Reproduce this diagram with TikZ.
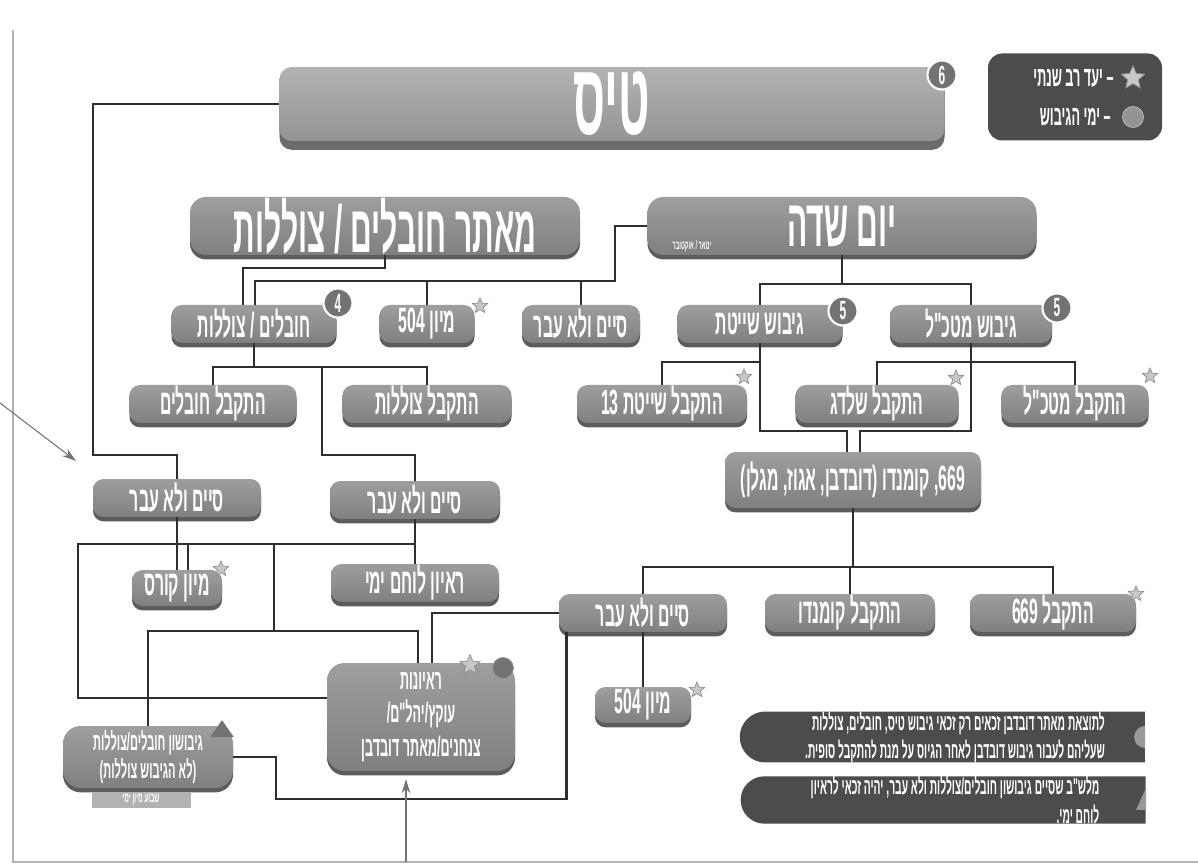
\documentclass[tikz,border=0pt]{standalone}
\usepackage{fontspec}
\newfontfamily\hebfont[Script=Hebrew,FakeStretch=0.45]{Liberation Sans}
\TeXXeTstate=1
\usetikzlibrary{arrows.meta,calc,positioning,shapes.geometric,shapes.misc,shadows}
\definecolor{boxtop}{gray}{0.62}
\definecolor{boxbot}{gray}{0.50}
\definecolor{boxedge}{gray}{0.36}
\definecolor{darkfill}{gray}{0.30}
\definecolor{linkcol}{gray}{0.18}
\newcommand{\heb}[1]{\beginR #1\endR}

\begin{document}
\begin{tikzpicture}[x=0.02cm, y=-0.02cm,
    link/.style={draw=linkcol, line width=1.5pt},
    pointer/.style={draw=black!55, line width=0.6pt, -{Stealth[length=8pt,width=5pt]}},
    boxbase/.style={rectangle, rounded corners=6pt, top color=boxtop, bottom color=boxbot,
        text=white, inner sep=0pt,
        drop shadow={shadow xshift=0pt, shadow yshift=-2.5pt, fill=boxedge, opacity=1}},
    pill/.style={boxbase, minimum width=#1*0.02cm, minimum height=0.76cm,
        font=\hebfont\bfseries\fontsize{20}{22}\selectfont},
    headbox/.style={boxbase, rounded corners=9pt, minimum width=#1*0.02cm, minimum height=1.16cm,
        font=\hebfont\bfseries\fontsize{38}{40}\selectfont},
    darkbox/.style={rectangle, rounded corners=8pt, fill=darkfill, text=white, inner sep=0pt},
    notebox/.style={rounded rectangle, rounded rectangle right arc=none, fill=darkfill,
        text=white, inner sep=0pt, minimum width=405*0.02cm,
        font=\hebfont\bfseries\fontsize{13}{16}\selectfont},
    badge/.style={circle, fill=black!55, draw=white, line width=1.2pt, text=white,
        inner sep=0pt, minimum size=0.58cm, font=\hebfont\bfseries\fontsize{15}{15}\selectfont},
    goalstar/.style={star, star points=5, star point ratio=2.2, fill=black!22, draw=black!45,
        line width=0.4pt, inner sep=0pt, minimum size=0.32cm},
    daydot/.style={circle, fill=black!42, draw=black!25, inner sep=0pt, minimum size=0.42cm}]

    \useasboundingbox (0,0) rectangle (1198,864);
    % שולי הדף
    \draw[black!30, line width=0.6pt] (13,30) -- (13,862) -- (1198,862);

    % כותרת
    \node[boxbase, rounded corners=7pt, top color=black!30, bottom color=black!42,
        drop shadow={shadow xshift=0pt, shadow yshift=-5pt, fill=black!58, opacity=1},
        minimum width=665*0.02cm, minimum height=1.48cm,
        font=\hebfont\bfseries\fontsize{58}{60}\selectfont] (title) at (612,104) {\heb{טיס}};
    \node[badge] (badge6) at (942,75) {6};

    % מקרא
    \node[darkbox, minimum width=174*0.02cm, minimum height=87*0.02cm] (legend) at (1075,97) {};
    \node[goalstar, minimum size=0.5cm] (legStar) at (1133,78) {};
    \node[daydot] (legDay) at (1133,117) {};
    \node[left=3pt of legStar, text=white, font=\hebfont\bfseries\fontsize{16}{16}\selectfont] (legStarTxt) {\heb{– יעד רב שנתי}};
    \node[left=3pt of legDay, text=white, font=\hebfont\bfseries\fontsize{16}{16}\selectfont] (legDayTxt) {\heb{– ימי הגיבוש}};

    % שורה עליונה
    \node[headbox=389] (yom) at (842,226) {\heb{יום שדה}};
    \node[text=white, font=\hebfont\bfseries\fontsize{7}{7}\selectfont] (yomDate) at (692,246) {\heb{ינואר / אוקטובר}};
    \node[headbox=390] (maatar) at (385,226) {\heb{מאתר חובלים / צוללות}};

    % גיבושים
    \node[pill=165] (hovsub) at (254,324) {\heb{חובלים / צוללות}};
    \node[badge] (badge4) at (338,303) {4};
    \node[pill=95] (mi504a) at (427,324) {\heb{מיון 504}};
    \node[goalstar] (starA) at (480,306) {};
    \node[pill=118] (sfailA) at (581,324) {\heb{סיים ולא עבר}};
    \node[pill=165] (gibShay) at (760,324) {\heb{גיבוש שייטת}};
    \node[badge] (badge5a) at (843,311) {5};
    \node[pill=162] (gibMat) at (971,324) {\heb{גיבוש מטכ"ל}};
    \node[badge] (badge5b) at (1057,308) {5};

    % התקבל
    \node[pill=167] (accHov) at (213,404) {\heb{התקבל חובלים}};
    \node[pill=169] (accTsol) at (427,404) {\heb{התקבל צוללות}};
    \node[pill=170] (accShay) at (662,404) {\heb{התקבל שייטת 13}};
    \node[goalstar] (starB) at (744,377) {};
    \node[pill=163] (accShal) at (877,404) {\heb{התקבל שלדג}};
    \node[goalstar] (starC) at (956,378) {};
    \node[pill=147] (accMat) at (1075,404) {\heb{התקבל מטכ"ל}};
    \node[goalstar] (starD) at (1150,376) {};

    \node[pill=256, minimum height=1.12cm] (komando) at (853,480) {\heb{669\kern0pt, קומנדו \kern0pt(\kern0pt דובדבן\kern0pt, אגוז\kern0pt, מגלן\kern0pt)}};

    \node[pill=168] (sfailB) at (643,613) {\heb{סיים ולא עבר}};
    \node[pill=170] (accKom) at (850,613) {\heb{התקבל קומנדו}};
    \node[pill=166] (acc669) at (1053,613) {\heb{התקבל 669}};
    \node[goalstar] (starE) at (1136,594) {};
    \node[pill=96, minimum height=0.72cm] (mi504b) at (643,705) {\heb{מיון 504}};
    \node[goalstar] (starF) at (697,690) {};

    % צד שמאל
    \node[pill=168] (sfailC) at (177,498) {\heb{סיים ולא עבר}};
    \node[pill=170] (sfailD) at (415,500) {\heb{סיים ולא עבר}};
    \node[pill=90, minimum height=0.72cm] (miKurs) at (177,588) {\heb{מיון קורס}};
    \node[goalstar] (starG) at (221,569) {};
    \node[pill=168] (rayon) at (415,583) {\heb{ראיון לוחם ימי}};

    \node[boxbase, rounded corners=10pt, minimum width=188*0.02cm, minimum height=2.16cm,
        align=center, font=\hebfont\bfseries\fontsize{16}{19}\selectfont] (bigbox) at (421,717)
        {\heb{ראיונות}\\\heb{עוקץ/יהל"ם\kern0pt/}\\\heb{צנחנים/מאתר דובדבן}};
    \node[goalstar, minimum size=0.42cm] (starH) at (470,665) {};
    \node[daydot, fill=black!55, draw=black!40] (dayH) at (503,668) {};

    \node[boxbase, rounded corners=10pt, minimum width=170*0.02cm, minimum height=1.24cm,
        align=center, font=\hebfont\bfseries\fontsize{14}{16}\selectfont] (gibushon) at (148,757)
        {\heb{גיבושון חובלים/צוללות}\\\heb{(לא הגיבוש צוללות)}};
    \node[isosceles triangle, shape border rotate=90, isosceles triangle apex angle=70,
        fill=black!55, inner sep=0pt, minimum size=0.34cm] (triH) at (222,731) {};
    \node[rectangle, fill=black!30, text=white, minimum width=99*0.02cm, minimum height=0.32cm,
        inner sep=0pt, font=\hebfont\bfseries\fontsize{8}{8}\selectfont] (gibTag) at (141,800) {\heb{שבוע מיון ימי}};

    % הערות
    \node[notebox, minimum height=1.0cm, align=right] (note1) at (955,737)
        {\heb{לתוצאת מאתר דובדבן זכאים רק זכאי גיבוש טיס, חובלים, צוללות}\\\heb{שעליהם לעבור גיבוש דובדבן לאחר הגיוס על מנת להתקבל סופית.}};
    \node[notebox, minimum height=0.92cm, align=right] (note2) at (955,800)
        {\heb{מלש"ב שסיים גיבושון חובלים/צוללות ולא עבר, יהיה זכאי לראיון}\\\heb{לוחם ימי.}};
    \fill[black!40] (note1.east) ++(0,-11) arc[start angle=90, end angle=270, radius=0.22cm] -- cycle;
    \fill[black!40] (note2.east) ++(0,-12) -- ++(-10,22) -- ++(10,0) -- cycle;

    % חיבורים
    \draw[link] (title.west) -| (93,455) -| (sfailC.north);
    \draw[link] (maatar.south) |- (243,268) -- ($(hovsub.north)+(-11,0)$);

    \coordinate (busA) at (615,281);
    \draw[link] (yom.west) -| (busA) -| ($(hovsub.north)+(1,0)$);
    \draw[link] (mi504a.north) -- (mi504a.north |- busA);
    \draw[link] (sfailA.north) -- (sfailA.north |- busA);

    \coordinate (busB) at (842,284);
    \draw[link] (yom.south) -- (busB);
    \draw[link] (gibShay.north) |- (busB) -| (gibMat.north);

    \coordinate (busC) at (760,362);
    \draw[link] (busC) -| (accShay.north);
    \coordinate (kneeC) at (760,431);
    \draw[link] (gibShay.south) -- (kneeC) -| ($(komando.north)+(-6,0)$);

    \coordinate (busD) at (971,362);
    \draw[link] (accShal.north) |- (busD) -| (accMat.north);
    \coordinate (kneeD) at (971,431);
    \draw[link] (gibMat.south) -- (kneeD) -| ($(komando.north)+(7,0)$);

    \coordinate (busE) at (853,567);
    \draw[link] (komando.south) -- (busE);
    \draw[link] (sfailB.north) |- (busE) -| (acc669.north);
    \draw[link] (accKom.north) -- (accKom.north |- busE);
    \draw[link] (sfailB.west) -| ($(bigbox.north)+(11,0)$);
    \draw[link] (sfailB.south) -- (mi504b.north);
    \draw[link] ($(sfailB.south west)+(8,0)$) |- (276,799) |- (gibushon.east);

    \coordinate (busF) at (254,367);
    \draw[link] (hovsub.south) -- (busF);
    \draw[link] (accHov.north) |- (busF) -| (accTsol.north);
    \coordinate (tapF) at (322,367);
    \coordinate (kneeF) at (322,455);
    \draw[link] (tapF) -- (kneeF) -| (sfailD.north);

    \draw[link] (sfailC.south) -- (miKurs.north);
    \draw[link] (sfailD.south) -- (rayon.north);

    \coordinate (busG) at (415,544);
    \coordinate (kneeG) at (78,698);
    \draw[link] (busG) -| (kneeG) -- (kneeG -| bigbox.west);
    \coordinate (tapG) at (188,544);
    \draw[link] (tapG) -- (tapG |- miKurs.north);
    \coordinate (tapH) at (274,544);
    \coordinate (kneeH) at (274,631);
    \draw[link] (tapH) -- (kneeH);
    \draw[link] (gibushon.north) |- (kneeH) -| ($(bigbox.north)+(-3,0)$);

    % חצים
    \coordinate (arrA) at (0,403);
    \coordinate (arrAtip) at (76,461);
    \draw[pointer] (arrA) -- (arrAtip);
    \coordinate (arrB) at (406,862);
    \draw[pointer] (arrB) -- ($(bigbox.south)+(-15,8)$);
\end{tikzpicture}
\end{document}
